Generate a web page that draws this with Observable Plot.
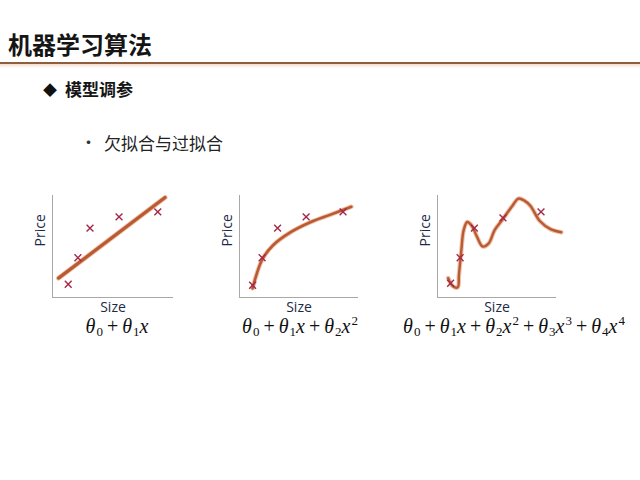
<!DOCTYPE html>
<html><head><meta charset="utf-8">
<script src="https://cdn.jsdelivr.net/npm/d3@7"></script>
<script src="https://cdn.jsdelivr.net/npm/@observablehq/plot@0.6"></script>
<style>
body{margin:0;width:640px;height:480px;background:#fff;position:relative;overflow:hidden;font-family:"Noto Sans CJK SC","Noto Sans",sans-serif;}
.abs{position:absolute;white-space:nowrap;}
#title{left:8px;top:32px;font-size:24px;line-height:24px;font-weight:700;color:#151515;}
#rule{left:0;top:62px;width:640px;height:2px;background:#8f5e3e;}
#shadow{left:0;top:64px;width:640px;height:4px;background:linear-gradient(#f2dccd,#fff);}
#diamond{left:43px;top:81px;font-size:14px;line-height:16px;color:#111;}
#sub{left:65px;top:80px;font-size:17px;line-height:17px;font-weight:700;color:#151515;}
#dot{left:80px;top:133px;font-size:17px;line-height:17px;color:#333;}
#bullet{left:104px;top:134px;font-size:17px;line-height:17px;color:#222;}
.f{font-family:"Liberation Serif","DejaVu Serif",serif;font-size:20px;line-height:20px;color:#111;transform:translateX(-50%);word-spacing:-1px;}
.f i{font-style:italic;}
.f sub{font-size:13px;vertical-align:-3px;line-height:0;margin-left:1px;}
.f sup{font-size:13px;vertical-align:8px;line-height:0;margin-left:1px;}
</style></head>
<body>
<div class="abs" id="title">机器学习算法</div>
<div class="abs" id="rule"></div>
<div class="abs" id="shadow"></div>
<div class="abs" id="diamond">◆</div>
<div class="abs" id="sub">模型调参</div>
<div class="abs" id="dot">·</div>
<div class="abs" id="bullet">欠拟合与过拟合</div>
<div class="abs" id="c1" style="left:20px;top:185px;"></div>
<div class="abs" id="c2" style="left:210px;top:185px;"></div>
<div class="abs" id="c3" style="left:410px;top:185px;"></div>
<div class="abs f" style="left:117px;top:316px;"><i>θ</i><sub>0</sub> + <i>θ</i><sub>1</sub><i>x</i></div>
<div class="abs f" style="left:300px;top:316px;"><i>θ</i><sub>0</sub> + <i>θ</i><sub>1</sub><i>x</i> + <i>θ</i><sub>2</sub><i>x</i><sup>2</sup></div>
<div class="abs f" style="left:514px;top:316px;"><i>θ</i><sub>0</sub> + <i>θ</i><sub>1</sub><i>x</i> + <i>θ</i><sub>2</sub><i>x</i><sup>2</sup> + <i>θ</i><sub>3</sub><i>x</i><sup>3</sup> + <i>θ</i><sub>4</sub><i>x</i><sup>4</sup></div>
<script>
// Training points (same data in all three panels, read per panel)
const size1 = [1.3, 2.1, 3.1, 5.5, 8.7];
const price1 = [1.3, 3.9, 6.8, 7.9, 8.4];
const size2 = [1.1, 1.9, 3.2, 5.6, 8.7];
const price2 = [1.2, 3.9, 6.8, 7.9, 8.4];
const size3 = [1.1, 1.9, 3.1, 5.5, 8.7];
const price3 = [1.4, 3.9, 6.8, 7.8, 8.4];
// Fitted curves
const fitX1 = [0.5, 9.3];
const fitY1 = [1.9, 9.8];
const fitX2 = [1.1, 1.9, 2.8, 4.3, 6.0, 7.6, 9.4];
const fitY2 = [0.9, 3.7, 5.1, 6.4, 7.4, 8.1, 8.9];
const fitX3 = [0.9, 1.3, 1.7, 1.8, 2.0, 2.2, 2.5, 2.9, 3.3, 3.8, 4.3, 4.8, 5.5, 6.3, 6.8, 7.3, 7.8, 8.6, 9.5, 10.4];
const fitY3 = [1.9, 1.1, 1.0, 2.2, 4.6, 6.6, 7.4, 7.0, 6.0, 5.0, 5.3, 6.6, 7.7, 9.0, 9.7, 9.5, 9.0, 7.5, 6.7, 6.4];
const axisLabels = {x: "Size", y: "Price"};

const zip = (xs, ys) => xs.map((x, i) => ({x, y: ys[i]}));

function panel(el, pts, fit, curve, margins, halo, core) {
  const chart = Plot.plot({
    width: 160, height: 130,
    marginLeft: margins[0], marginRight: margins[1], marginTop: 10, marginBottom: 18,
    x: {domain: [0, 10], axis: null},
    y: {domain: [0, 10], axis: null},
    style: {background: "transparent", overflow: "visible"},
    marks: [
      Plot.ruleX([0], {stroke: "#a8a8a8", strokeWidth: 1}),
      Plot.ruleY([0], {stroke: "#a8a8a8", strokeWidth: 1}),
      Plot.line(fit, {x: "x", y: "y", curve, stroke: "#eab396", strokeWidth: halo, strokeOpacity: 0.8}),
      Plot.line(fit, {x: "x", y: "y", curve, stroke: "#b95a33", strokeWidth: core}),
      Plot.dot(pts, {x: "x", y: "y", symbol: "times", r: 3.2, stroke: "#a3294a", strokeWidth: 1.4}),
      Plot.text([axisLabels.x], {frameAnchor: "bottom", dy: 14, fontSize: 14, fill: "#1c2a48", fontFamily: "Open Sans, sans-serif"}),
      Plot.text([axisLabels.y], {frameAnchor: "left", rotate: -90, dx: -12, fontSize: 14, fill: "#1c2a48", fontFamily: "Open Sans, sans-serif"})
    ]
  });
  document.getElementById(el).appendChild(chart);
}
panel("c1", zip(size1, price1), zip(fitX1, fitY1), "linear", [32, 7], 5, 3.2);
panel("c2", zip(size2, price2), zip(fitX2, fitY2), "catmull-rom", [29, 12], 4.5, 2.6);
panel("c3", zip(size3, price3), zip(fitX3, fitY3), "catmull-rom", [27, 14], 4.5, 2.4);
</script>
</body></html>
